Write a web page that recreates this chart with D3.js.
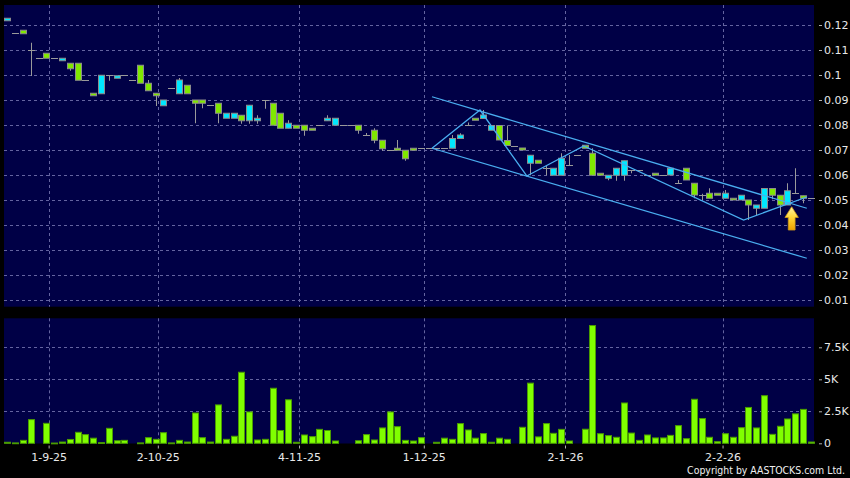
<!DOCTYPE html>
<html><head><meta charset="utf-8">
<script src="https://cdn.jsdelivr.net/npm/d3@7"></script>
<style>html,body{margin:0;padding:0;background:#000;}svg{display:block;}</style>
</head><body>
<svg id="c" width="850" height="478"></svg>
<script>
// ---- data ----
// candles: [open, high, low, close]
const candles = [
[0.1217,0.1227,0.1217,0.1227],[0.1167,0.1167,0.1167,0.1167],[0.1179,0.1179,0.1165,0.1165],[0.1099,0.1129,0.0996,0.1099],
[0.1067,0.1067,0.1067,0.1067],[0.1087,0.1087,0.1067,0.1067],[0.1067,0.1067,0.1067,0.1067],[0.1057,0.1067,0.1057,0.1067],
[0.1047,0.1047,0.1017,0.1025],[0.1047,0.1047,0.0979,0.0979],[0.0979,0.0979,0.0979,0.0979],[0.0927,0.0927,0.0917,0.0917],
[0.0925,0.0999,0.0925,0.0999],[0.0999,0.0999,0.0977,0.0999],[0.0987,0.0997,0.0987,0.0997],[0.0999,0.0999,0.0999,0.0999],
[0.0979,0.0979,0.0979,0.0979],[0.1039,0.1039,0.0967,0.0967],[0.0967,0.0980,0.0937,0.0937],[0.0927,0.0927,0.0876,0.0917],
[0.0877,0.0900,0.0877,0.0900],[0.0947,0.0947,0.0947,0.0947],[0.0925,0.0988,0.0925,0.0980],[0.0959,0.0959,0.0925,0.0925],
[0.0900,0.0900,0.0807,0.0887],[0.0900,0.0900,0.0867,0.0887],[0.0879,0.0879,0.0879,0.0879],[0.0887,0.0887,0.0807,0.0847],
[0.0827,0.0847,0.0827,0.0847],[0.0827,0.0847,0.0827,0.0847],[0.0839,0.0839,0.0805,0.0817],[0.0817,0.0879,0.0805,0.0879],
[0.0817,0.0839,0.0805,0.0827],[0.0899,0.0899,0.0865,0.0899],[0.0887,0.0887,0.0799,0.0799],[0.0847,0.0847,0.0787,0.0787],
[0.0787,0.0819,0.0787,0.0807],[0.0799,0.0799,0.0787,0.0787],[0.0799,0.0799,0.0757,0.0779],[0.0787,0.0787,0.0779,0.0779],
[0.0799,0.0799,0.0799,0.0799],[0.0817,0.0839,0.0817,0.0827],[0.0799,0.0827,0.0799,0.0827],[0.0799,0.0799,0.0799,0.0799],
[0.0799,0.0799,0.0799,0.0799],[0.0799,0.0799,0.0765,0.0779],[0.0759,0.0768,0.0759,0.0759],[0.0779,0.0787,0.0727,0.0739],
[0.0739,0.0739,0.0697,0.0705],[0.0699,0.0699,0.0699,0.0699],[0.0707,0.0740,0.0699,0.0699],[0.0699,0.0699,0.0657,0.0665],
[0.0707,0.0707,0.0699,0.0699],[0.0707,0.0707,0.0707,0.0707],[0.0707,0.0707,0.0707,0.0707],[0.0707,0.0707,0.0707,0.0707],
[0.0707,0.0707,0.0707,0.0707],[0.0707,0.0760,0.0707,0.0746],[0.0746,0.0767,0.0746,0.0760],[0.0799,0.0810,0.0799,0.0799],
[0.0827,0.0827,0.0819,0.0819],[0.0826,0.0860,0.0826,0.0840],[0.0779,0.0798,0.0779,0.0798],[0.0798,0.0798,0.0740,0.0740],
[0.0738,0.0798,0.0718,0.0718],[0.0718,0.0718,0.0718,0.0718],[0.0708,0.0708,0.0700,0.0700],[0.0647,0.0679,0.0599,0.0679],
[0.0659,0.0659,0.0647,0.0647],[0.0627,0.0639,0.0599,0.0627],[0.0599,0.0627,0.0599,0.0627],[0.0599,0.0687,0.0599,0.0667],
[0.0640,0.0680,0.0640,0.0640],[0.0680,0.0680,0.0680,0.0680],[0.0719,0.0719,0.0707,0.0707],[0.0687,0.0707,0.0599,0.0599],
[0.0607,0.0607,0.0599,0.0599],[0.0587,0.0599,0.0579,0.0599],[0.0599,0.0627,0.0577,0.0627],[0.0599,0.0657,0.0577,0.0657],
[0.0619,0.0619,0.0607,0.0619],[0.0619,0.0619,0.0619,0.0619],[0.0599,0.0599,0.0599,0.0599],[0.0607,0.0607,0.0599,0.0599],
[0.0600,0.0600,0.0600,0.0600],[0.0600,0.0627,0.0600,0.0627],[0.0567,0.0580,0.0567,0.0567],[0.0627,0.0627,0.0580,0.0580],
[0.0567,0.0567,0.0507,0.0520],[0.0520,0.0525,0.0500,0.0520],[0.0527,0.0547,0.0507,0.0507],[0.0527,0.0527,0.0519,0.0519],
[0.0507,0.0540,0.0507,0.0527],[0.0507,0.0507,0.0500,0.0500],[0.0500,0.0519,0.0500,0.0519],[0.0500,0.0500,0.0420,0.0480],
[0.0467,0.0480,0.0440,0.0480],[0.0467,0.0546,0.0467,0.0546],[0.0546,0.0546,0.0503,0.0519],[0.0519,0.0519,0.0440,0.0480],
[0.0480,0.0567,0.0480,0.0537],[0.0527,0.0627,0.0527,0.0527],[0.0517,0.0517,0.0487,0.0507],[0.0507,0.0507,0.0507,0.0507]
];
// volume, thousands of shares
const volumes = [
0.08,0.03,0.23,1.85,0,1.56,0.02,0.1,0.3,0.86,0.68,0.4,0.05,1.17,0.2,0.23,0,0.03,0.44,0.31,
0.83,0.03,0.23,0.1,2.37,0.44,0.1,3.0,0.31,0.55,5.55,2.45,0.26,0.31,4.3,1.0,3.4,0.08,0.65,0.52,
1.09,1.0,0.18,0,0,0.2,0.68,0.26,1.2,2.45,1.3,0.23,0.18,0.44,0,0.08,0.4,0.31,1.54,1.04,
0.4,0.76,0.08,0.4,0.31,0,1.25,4.7,0.5,1.54,0.78,1.09,0.18,0,1.1,9.2,0.75,0.6,0.47,3.15,
0.8,0.23,0.65,0.42,0.42,0.62,1.38,0.36,3.44,1.93,0.47,0.13,0.75,0.47,1.22,2.8,1.2,3.72,0.7,1.33,
1.9,2.3,2.65,0.1
];
const dateLabels = ["1-9-25","2-10-25","4-11-25","1-12-25","2-1-26","2-2-26"];
const datePos = [5.3, 19.3, 37.4, 53.4, 71.5, 91.7];
const priceTicks = [0.01,0.02,0.03,0.04,0.05,0.06,0.07,0.08,0.09,0.1,0.11,0.12];
const volTicks = [0, 2.5, 5, 7.5];
const volLabels = ["0","2.5K","5K","7.5K"];
// trend annotations [index, price]
const upperChannel = [[54.45,0.0913],[102.5,0.0467]];
const lowerChannel = [[54.45,0.0707],[102.5,0.0267]];
const zigzag = [[54.45,0.0707],[60.6,0.0860],[66.6,0.0596],[73.9,0.0716],[94.4,0.0420],[102.5,0.0512]];
const arrowAt = {index:100.56, tip:0.0473, base:0.0380};

// ---- layout ----
const svg = d3.select("#c");
const L = 4, R = 814;
const mainTop = 5, mainBot = 306.7, volTop = 318.3, volBot = 443.5;
const x = d3.scaleLinear().domain([0, 103]).range([7.3, 810.7]);
const y = d3.scaleLinear().domain([0.01, 0.12]).range([300, 25]);
const v = d3.scaleLinear().domain([0, 7.5]).range([443.3, 347.3]);
const font = "DejaVu Sans, Verdana, sans-serif";
const gridCol = "#6464a0";

svg.append("rect").attr("width",850).attr("height",478).attr("fill","#000");
svg.append("rect").attr("x",L).attr("y",mainTop).attr("width",R-L).attr("height",mainBot-mainTop).attr("fill","#000046");
svg.append("rect").attr("x",L).attr("y",volTop).attr("width",R-L).attr("height",volBot-volTop).attr("fill","#000046");

// grids
const g = svg.append("g").attr("stroke",gridCol).attr("stroke-width",1).attr("stroke-dasharray","3,3").attr("fill","none");
priceTicks.forEach(p => g.append("line").attr("x1",L).attr("x2",R).attr("y1",Math.round(y(p))+0.5).attr("y2",Math.round(y(p))+0.5));
volTicks.slice(1).forEach(t => g.append("line").attr("x1",L).attr("x2",R).attr("y1",Math.round(v(t))+0.5).attr("y2",Math.round(v(t))+0.5));
datePos.forEach(d => {
  const xx = Math.round(x(d))+0.5;
  g.append("line").attr("x1",xx).attr("x2",xx).attr("y1",mainTop).attr("y2",mainBot);
  g.append("line").attr("x1",xx).attr("x2",xx).attr("y1",volTop).attr("y2",volBot);
});

// candles
const cg = svg.append("g");
candles.forEach((c,i) => {
  const [o,h,l,cl] = c;
  const cx = Math.round(x(i)) + 0.5;
  if (h > Math.max(o,cl) || l < Math.min(o,cl)) {
    cg.append("line").attr("x1",cx).attr("x2",cx).attr("y1",y(h)).attr("y2",y(l))
      .attr("stroke","#9a9a9a").attr("stroke-width",1);
  }
  if (o === cl) {
    cg.append("line").attr("x1",cx-3.5).attr("x2",cx+3.5).attr("y1",Math.round(y(o))+0.5).attr("y2",Math.round(y(o))+0.5)
      .attr("stroke","#9a9a9a").attr("stroke-width",1);
  } else {
    const top = y(Math.max(o,cl)), bot = y(Math.min(o,cl));
    const hgt = Math.max(1.5, bot-top);
    cg.append("rect").attr("x",cx-3).attr("y",top).attr("width",6).attr("height",hgt)
      .attr("fill", cl > o ? "#00e8ff" : "#80e800").attr("stroke","#8c8c8c").attr("stroke-width",1);
  }
});

// volume bars
const vg = svg.append("g");
volumes.forEach((d,i) => {
  if (d <= 0) return;
  const cx = Math.round(x(i)) + 0.5;
  const top = v(d);
  vg.append("rect").attr("x",cx-3).attr("y",top).attr("width",6).attr("height",Math.max(0.8, v(0)-top))
    .attr("fill","#80ff00").attr("stroke","#4a9c00").attr("stroke-width",1);
});

// trend lines
const line = d3.line().x(d => x(d[0])).y(d => y(d[1]));
const tg = svg.append("g").attr("fill","none").attr("stroke","#4aaef0").attr("stroke-width",1.3);
[upperChannel, lowerChannel, zigzag].forEach(p => tg.append("path").attr("d", line(p)));

// arrow
const defs = svg.append("defs");
const grad = defs.append("linearGradient").attr("id","ag").attr("x1",0).attr("x2",0).attr("y1",0).attr("y2",1);
grad.append("stop").attr("offset","0%").attr("stop-color","#fff6a8");
grad.append("stop").attr("offset","45%").attr("stop-color","#ffd838");
grad.append("stop").attr("offset","100%").attr("stop-color","#eca000");
const ax = x(arrowAt.index), at = y(arrowAt.tip), ab = y(arrowAt.base);
const hh = 10.7, hw = 6.7, sw = 3.4;
svg.append("path")
  .attr("d", `M${ax},${at} L${ax+hw},${at+hh} L${ax+sw},${at+hh} L${ax+sw},${ab} L${ax-sw},${ab} L${ax-sw},${at+hh} L${ax-hw},${at+hh} Z`)
  .attr("fill","url(#ag)").attr("stroke","#d09a18").attr("stroke-width",0.8);

// right axes
const pAxis = d3.axisRight(y).tickValues(priceTicks).tickSize(3).tickPadding(2).tickFormat(d => String(+d.toFixed(2)));
const pa = svg.append("g").attr("transform",`translate(819,0)`).call(pAxis);
const vAxis = d3.axisRight(v).tickValues(volTicks).tickSize(3).tickPadding(2).tickFormat((d,i) => volLabels[i]);
const va = svg.append("g").attr("transform",`translate(819,0)`).call(vAxis);
// bottom axis
const bAxis = d3.axisBottom(x).tickValues(datePos).tickSize(3).tickPadding(5).tickFormat((d,i) => dateLabels[i]);
const ba = svg.append("g").attr("transform",`translate(0,445.5)`).call(bAxis);
[pa,va,ba].forEach(a => {
  a.select(".domain").remove();
  a.selectAll("line").attr("stroke","#b0b0b0");
  a.selectAll("text").attr("fill","#e8e8e8").style("font-family",font).style("font-size","11px");
});

const copy = svg.append("text").attr("x",845).attr("y",474).attr("text-anchor","end")
  .style("font-family","'Liberation Sans Narrow', 'DejaVu Sans Condensed', 'DejaVu Sans', sans-serif")
  .style("font-size","11px").attr("fill","#f0f0f0")
  .text("Copyright by AASTOCKS.com Ltd.");
const w = copy.node().getComputedTextLength();
if (w > 160) copy.style("font-size", (11 * 158 / w).toFixed(2) + "px");
</script>
</body></html>
